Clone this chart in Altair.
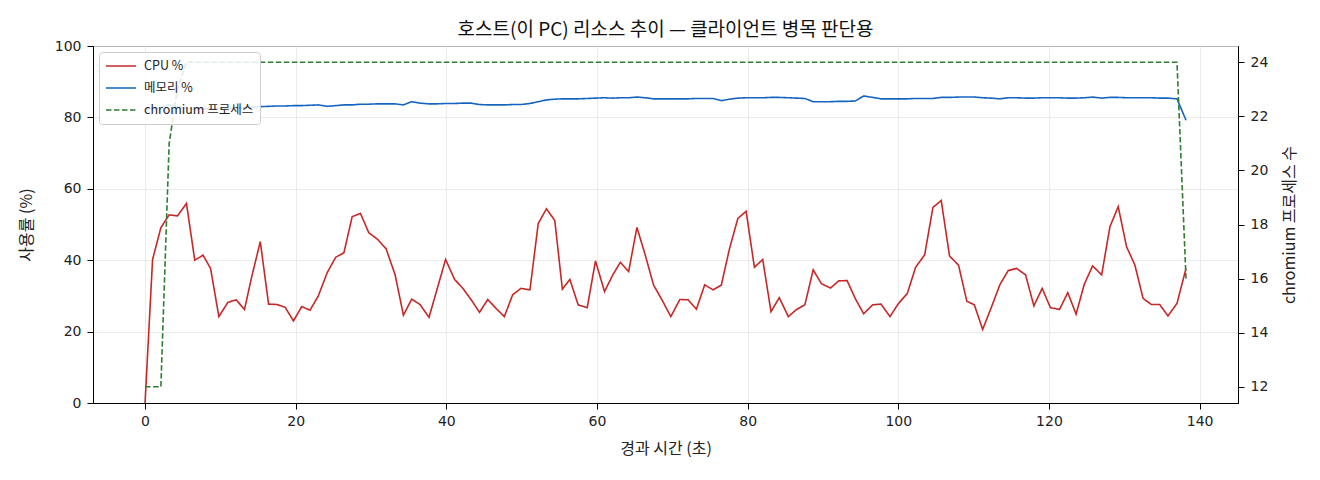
import altair as alt
import pandas as pd

FONT = "Noto Sans CJK KR"
NUM_FONT = "DejaVu Sans"

# elapsed seconds of each sample
times = [
    0.0, 1.0, 2.1, 3.2, 4.3, 5.5, 6.6, 7.7, 8.7, 9.8,
    11.0, 12.1, 13.2, 14.2, 15.3, 16.4, 17.5, 18.6, 19.7, 20.8,
    21.9, 23.0, 24.2, 25.3, 26.4, 27.5, 28.6, 29.7, 30.9, 32.0,
    33.2, 34.3, 35.4, 36.5, 37.7, 38.8, 39.9, 41.1, 42.2, 43.3,
    44.4, 45.5, 46.6, 47.7, 48.8, 49.9, 51.1, 52.2, 53.3, 54.4,
    55.4, 56.4, 57.5, 58.7, 59.8, 61.0, 62.1, 63.1, 64.2, 65.3,
    66.4, 67.5, 68.7, 69.8, 71.0, 72.1, 73.2, 74.3, 75.4, 76.5,
    77.6, 78.7, 79.8, 80.9, 82.0, 83.1, 84.2, 85.4, 86.5, 87.6,
    88.7, 89.8, 91.0, 92.1, 93.2, 94.3, 95.4, 96.6, 97.7, 98.9,
    100.0, 101.2, 102.3, 103.5, 104.6, 105.7, 106.8, 108.0, 109.1, 110.1,
    111.2, 112.3, 113.5, 114.6, 115.7, 116.9, 118.0, 119.1, 120.2, 121.4,
    122.5, 123.6, 124.7, 125.8, 127.0, 128.1, 129.2, 130.3, 131.4, 132.5,
    133.6, 134.7, 135.8, 137.0, 138.2,
]

cpu = [
    0.0, 40.2, 49.1, 52.7, 52.4, 55.9, 40.0, 41.4, 37.7, 24.2,
    28.2, 28.9, 26.2, 35.7, 45.2, 27.7, 27.6, 26.8, 23.0, 27.0,
    26.0, 30.0, 36.6, 40.8, 42.1, 52.2, 53.1, 47.7, 45.8, 43.2,
    35.9, 24.6, 29.1, 27.6, 24.0, 32.1, 40.2, 34.6, 32.1, 28.9,
    25.4, 29.0, 26.5, 24.2, 30.3, 32.1, 31.7, 50.3, 54.4, 51.1,
    31.9, 34.6, 27.5, 26.7, 39.8, 31.2, 35.9, 39.4, 36.8, 49.2,
    41.5, 33.1, 28.6, 24.2, 29.0, 28.9, 26.3, 33.1, 31.7, 33.0,
    43.3, 51.7, 53.7, 38.0, 40.2, 25.6, 29.5, 24.2, 26.2, 27.5,
    37.3, 33.4, 32.2, 34.2, 34.3, 29.2, 25.0, 27.5, 27.7, 24.2,
    27.8, 30.7, 38.0, 41.5, 54.8, 56.7, 41.2, 38.6, 28.5, 27.5,
    20.6, 26.5, 33.2, 37.1, 37.7, 35.9, 27.2, 32.1, 26.7, 26.2,
    30.9, 24.9, 33.3, 38.4, 35.9, 49.4, 55.0, 43.8, 38.7, 29.3,
    27.6, 27.6, 24.4, 27.9, 37.7,
]

memory = [
    82.2, 82.4, 82.8, 83.5, 83.0, 82.5, 82.3, 82.4, 82.5, 82.5,
    82.5, 82.6, 82.8, 82.9, 83.0, 83.1, 83.2, 83.2, 83.3, 83.3,
    83.4, 83.5, 83.1, 83.3, 83.5, 83.5, 83.7, 83.7, 83.8, 83.8,
    83.8, 83.5, 84.4, 84.0, 83.8, 83.8, 83.9, 83.9, 84.0, 84.0,
    83.6, 83.5, 83.5, 83.5, 83.6, 83.6, 83.9, 84.4, 84.9, 85.1,
    85.2, 85.2, 85.2, 85.3, 85.4, 85.5, 85.4, 85.5, 85.5, 85.7,
    85.5, 85.2, 85.2, 85.2, 85.2, 85.2, 85.3, 85.3, 85.3, 84.7,
    85.1, 85.4, 85.5, 85.5, 85.5, 85.6, 85.6, 85.5, 85.4, 85.3,
    84.4, 84.4, 84.4, 84.5, 84.5, 84.6, 86.0, 85.6, 85.2, 85.2,
    85.2, 85.2, 85.3, 85.3, 85.3, 85.6, 85.6, 85.7, 85.7, 85.7,
    85.5, 85.4, 85.2, 85.5, 85.5, 85.4, 85.4, 85.5, 85.5, 85.5,
    85.4, 85.4, 85.5, 85.7, 85.4, 85.6, 85.6, 85.5, 85.5, 85.5,
    85.5, 85.4, 85.4, 85.2, 79.2,
]

chromium = [
    12, 12, 12, 21, 23, 24, 24, 24, 24, 24,
    24, 24, 24, 24, 24, 24, 24, 24, 24, 24,
    24, 24, 24, 24, 24, 24, 24, 24, 24, 24,
    24, 24, 24, 24, 24, 24, 24, 24, 24, 24,
    24, 24, 24, 24, 24, 24, 24, 24, 24, 24,
    24, 24, 24, 24, 24, 24, 24, 24, 24, 24,
    24, 24, 24, 24, 24, 24, 24, 24, 24, 24,
    24, 24, 24, 24, 24, 24, 24, 24, 24, 24,
    24, 24, 24, 24, 24, 24, 24, 24, 24, 24,
    24, 24, 24, 24, 24, 24, 24, 24, 24, 24,
    24, 24, 24, 24, 24, 24, 24, 24, 24, 24,
    24, 24, 24, 24, 24, 24, 24, 24, 24, 24,
    24, 24, 24, 24, 16,
]

series_names = ["CPU %", "메모리 %", "chromium 프로세스"]
series_colors = ["#c62828", "#1565c0", "#2e7d32"]
series_dashes = [[1, 0], [1, 0], [5.5, 2.5]]

frames = []
for name, vals in zip(series_names, [cpu, memory, chromium]):
    frames.append(pd.DataFrame({"t": times, "value": vals, "series": name}))
df = pd.concat(frames, ignore_index=True)

x_enc = alt.X(
    "t:Q",
    title="경과 시간 (초)",
    scale=alt.Scale(domain=[-6.91, 145.1], nice=False, zero=False),
    axis=alt.Axis(values=[0, 20, 40, 60, 80, 100, 120, 140], labelPadding=5, titlePadding=12),
)
color_enc = alt.Color(
    "series:N",
    title=None,
    scale=alt.Scale(domain=series_names, range=series_colors),
    legend=alt.Legend(
        orient="top-left", offset=6, fillColor="rgba(255,255,255,0.85)",
        strokeColor="#cccccc", cornerRadius=3, padding=6,
        symbolType="stroke", symbolSize=900, symbolStrokeWidth=1.6,
        clipHeight=16, rowPadding=6, labelOffset=7,
        labelFont=FONT, labelFontSize=12.5, labelColor="#222222",
    ),
)
dash_enc = alt.StrokeDash(
    "series:N",
    title=None,
    scale=alt.Scale(domain=series_names, range=series_dashes),
    legend=alt.Legend(orient="top-left"),
)

base = alt.Chart(df).mark_line(strokeWidth=1.6)

usage = base.transform_filter(
    alt.datum.series != "chromium 프로세스"
).encode(
    x=x_enc,
    y=alt.Y(
        "value:Q",
        title="사용률 (%)",
        scale=alt.Scale(domain=[0, 100], nice=False),
        axis=alt.Axis(values=[0, 20, 40, 60, 80, 100], titlePadding=20),
    ),
    color=color_enc,
    strokeDash=dash_enc,
    detail="series:N",
)

procs = base.transform_filter(
    alt.datum.series == "chromium 프로세스"
).encode(
    x=x_enc,
    y=alt.Y(
        "value:Q",
        title="chromium 프로세스 수",
        scale=alt.Scale(domain=[11.4, 24.6], nice=False, zero=False),
        axis=alt.Axis(orient="right", values=[12, 14, 16, 18, 20, 22, 24],
                      grid=False, titleAngle=270, titleBaseline="top", titlePadding=14),
    ),
    color=color_enc,
    strokeDash=dash_enc,
)

chart = alt.layer(usage, procs).resolve_scale(
    y="independent"
).properties(
    width=1145,
    height=357,
    autosize=alt.AutoSizeParams(type="none"),
    padding={"left": 85, "top": 38, "right": 74, "bottom": 69},
    title=alt.TitleParams(
        "호스트(이 PC) 리소스 추이 — 클라이언트 병목 판단용",
        font=FONT, fontSize=19, fontWeight="normal", color="#111111",
        anchor="middle", frame="group", offset=-1,
    ),
).configure_view(
    stroke="black", strokeWidth=1
).configure_axis(
    labelFont=NUM_FONT, titleFont=FONT, labelFontSize=14, titleFontSize=16,
    labelColor="#222222", titleColor="#222222", titleFontWeight="normal",
    domainColor="black", tickColor="black", tickSize=6, labelPadding=6,
    gridColor="#e6e6e6", gridWidth=0.8,
)

chart.save("out.html", embed_options={"renderer": "svg", "actions": False})
